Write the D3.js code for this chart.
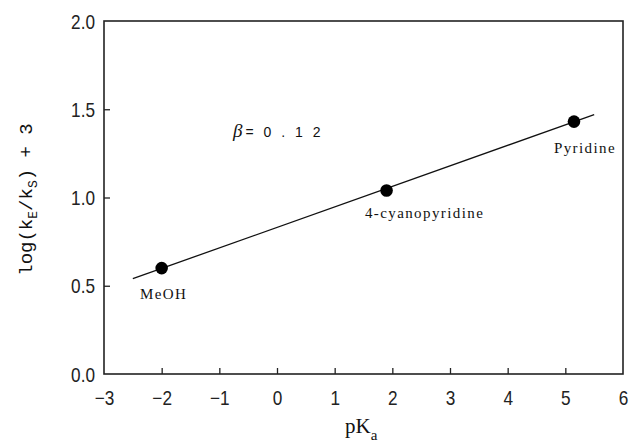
<!DOCTYPE html>
<html>
<head>
  <meta charset="utf-8">
  <script src="https://d3js.org/d3.v7.min.js"></script>
  <style>
    body { margin: 0; background: #fff; }
    svg { display: block; }
  </style>
</head>
<body>
  <div id="chart"></div>
  <script>
    "use strict"

    // dados
    var nomes = ["MeOH", "4-cyanopyridine", "Pyridine"];
    var pKa = [-2.0, 1.9, 5.15];
    var logK = [0.60, 1.04, 1.43];

    // reta ajustada (beta = 0.12)
    var retaX = [-2.5, 5.5];
    var retaY = [0.54, 1.47];

    var xTicks = [-3, -2, -1, 0, 1, 2, 3, 4, 5, 6];
    var yTicks = [0.0, 0.5, 1.0, 1.5, 2.0];

    var larguraSVG = 630, alturaSVG = 445;
    var margin = {top: 21, right: 7, bottom: 71, left: 104},
        larguraVis = larguraSVG - margin.left - margin.right,
        alturaVis = alturaSVG - margin.top - margin.bottom;

    var svg = d3.select('#chart').append('svg')
      .attr('width', larguraSVG)
      .attr('height', alturaSVG);

    var grafico = svg.append('g')
      .attr('transform', 'translate(' + margin.left + ',' + margin.top + ')');

    var x = d3.scaleLinear().domain([-3, 6]).range([0, larguraVis]);
    var y = d3.scaleLinear().domain([0, 2]).range([alturaVis, 0]);

    var fonteNum = "'Liberation Sans', Arial, sans-serif";
    var fonteMono = "'Liberation Mono', 'Courier New', monospace";
    var fonteSerif = "'Liberation Serif', 'Times New Roman', serif";

    // eixos (ticks para dentro)
    var eixoX = grafico.append('g')
      .attr('transform', 'translate(0,' + alturaVis + ')')
      .call(d3.axisBottom(x).tickValues(xTicks).tickSizeInner(-6).tickSizeOuter(0)
        .tickFormat(d3.format('d')).tickPadding(17));

    var eixoY = grafico.append('g')
      .call(d3.axisLeft(y).tickValues(yTicks).tickSizeInner(-6).tickSizeOuter(0)
        .tickFormat(d3.format('.1f')).tickPadding(14));

    [eixoX, eixoY].forEach(function(e) {
      e.select('.domain').remove();
      e.selectAll('line').attr('stroke', '#222').attr('stroke-width', 1.3);
      e.selectAll('text')
        .style('font-family', fonteNum)
        .style('font-size', '20px')
        .attr('transform', 'scale(0.86,1)')
        .attr('fill', '#222');
    });
    eixoX.selectAll('text').attr('x', 0);
    eixoY.selectAll('text').attr('x', -9 / 0.86).attr('dy', '0.36em');
    eixoX.selectAll('.tick').filter(function(d) { return d === -3 || d === 6; }).select('line').remove();
    eixoY.selectAll('.tick').filter(function(d) { return d === 0 || d === 2; }).select('line').remove();

    // moldura
    grafico.append('rect')
      .attr('x', 0).attr('y', 0)
      .attr('width', larguraVis).attr('height', alturaVis)
      .attr('fill', 'none').attr('stroke', '#222').attr('stroke-width', 1.6);

    // reta
    grafico.append('line')
      .attr('x1', x(retaX[0])).attr('y1', y(retaY[0]))
      .attr('x2', x(retaX[1])).attr('y2', y(retaY[1]))
      .attr('stroke', '#111').attr('stroke-width', 1.3);

    // pontos
    grafico.selectAll('circle.ponto')
      .data(pKa)
      .enter()
      .append('circle')
      .attr('class', 'ponto')
      .attr('cx', function(d) { return x(d); })
      .attr('cy', function(d, i) { return y(logK[i]); })
      .attr('r', 6.3)
      .attr('fill', '#000');

    // rotulos dos pontos
    var desloc = [[2, 31], [38, 28], [11, 31]];
    grafico.selectAll('text.rotulo')
      .data(nomes)
      .enter()
      .append('text')
      .attr('class', 'rotulo')
      .attr('x', function(d, i) { return x(pKa[i]) + desloc[i][0]; })
      .attr('y', function(d, i) { return y(logK[i]) + desloc[i][1]; })
      .attr('text-anchor', 'middle')
      .style('font-family', fonteSerif)
      .style('font-size', '15px')
      .style('letter-spacing', '1.4px')
      .attr('fill', '#111')
      .text(function(d) { return d; });

    // beta
    var beta = grafico.append('text')
      .attr('x', 233 - margin.left)
      .attr('y', 137 - margin.top)
      .attr('fill', '#111');
    beta.append('tspan')
      .style('font-family', fonteSerif)
      .style('font-style', 'italic')
      .style('font-size', '19px')
      .text('β');
    beta.append('tspan')
      .style('font-family', fonteNum)
      .style('font-size', '14px')
      .attr('dx', 3)
      .style('letter-spacing', '3px')
      .text('= 0 . 1 2');

    // titulo eixo x
    var tx = svg.append('text')
      .attr('x', 345).attr('y', 433)
      .style('font-family', fonteSerif)
      .style('font-size', '21px')
      .attr('fill', '#111');
    tx.append('tspan').text('pK');
    tx.append('tspan').attr('dy', 7).style('font-size', '15px').text('a');

    // titulo eixo y
    var ty = svg.append('text')
      .attr('transform', 'translate(32,' + (margin.top + alturaVis / 2 + 2) + ') rotate(-90)')
      .attr('text-anchor', 'middle')
      .style('font-family', fonteMono)
      .style('font-size', '19px')
      .attr('fill', '#111');
    ty.append('tspan').text('log(k');
    ty.append('tspan').attr('dy', 5).style('font-size', '13px').text('E');
    ty.append('tspan').attr('dy', -5).text('/k');
    ty.append('tspan').attr('dy', 5).style('font-size', '13px').text('S');
    ty.append('tspan').attr('dy', -5).text(') + 3');
  </script>
</body>
</html>
